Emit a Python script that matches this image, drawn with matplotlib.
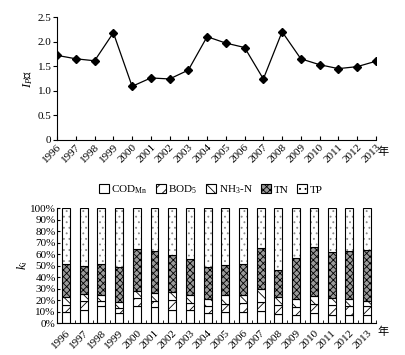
import matplotlib
matplotlib.use("Agg")
import matplotlib.pyplot as plt
import numpy as np
from matplotlib.patches import Patch
from matplotlib.ticker import FuncFormatter

plt.rcParams['font.family'] = ['Liberation Serif', 'Noto Sans CJK SC']
plt.rcParams['mathtext.fontset'] = 'custom'
plt.rcParams['mathtext.rm'] = 'Liberation Serif'
plt.rcParams['mathtext.it'] = 'Liberation Serif:italic'
plt.rcParams['hatch.linewidth'] = 0.6

years = list(range(1996, 2014))
ip = [1.72, 1.65, 1.61, 2.18, 1.09, 1.26, 1.24, 1.42, 2.10, 1.97,
      1.88, 1.24, 2.20, 1.65, 1.53, 1.45, 1.49, 1.60]

# contribution shares (%), bottom to top
cod = [10.0, 11.6, 15.0, 8.7, 15.0, 13.6, 11.6, 11.0, 9.0, 9.6,
       10.0, 10.7, 8.0, 7.2, 8.4, 7.2, 7.2, 7.2]
bod = [6.0, 7.4, 4.4, 4.3, 6.7, 5.8, 8.1, 6.4, 6.0, 7.2,
       7.4, 7.3, 8.0, 6.8, 8.1, 8.8, 7.8, 7.8]
nh3 = [7.0, 6.5, 5.2, 5.0, 5.8, 6.6, 7.0, 7.2, 6.3, 7.8,
       7.2, 11.6, 6.3, 6.9, 6.7, 5.7, 6.2, 4.4]
tn = [28.0, 24.5, 26.4, 30.4, 37.1, 36.3, 32.7, 31.4, 27.1, 26.1,
      27.0, 35.4, 24.1, 35.6, 42.6, 40.0, 41.1, 44.4]
tp = [100 - a - b - c - d for a, b, c, d in zip(cod, bod, nh3, tn)]

names = ['COD$_{\\mathrm{Mn}}$', 'BOD$_5$', 'NH$_3$-N', 'TN', 'TP']
hatches = ['', '///', '\\\\\\', 'xxxxx', '...']
faces = ['white', 'white', 'white', '#9a9a9a', 'white']
hatch_cols = ['black', 'black', 'black', 'black', '#8a8a8a']

fig = plt.figure(figsize=(4.05, 3.55), dpi=100)

# top: Ip line
ax1 = fig.add_axes([0.141, 0.606, 0.787, 0.346])
ax1.plot(years, ip, color='black', lw=0.9, marker='D', ms=4, mfc='black')
ax1.set_xlim(1996, 2013)
ax1.set_ylim(0, 2.5)
ax1.set_yticks([0, 0.5, 1.0, 1.5, 2.0, 2.5])
ax1.yaxis.set_major_formatter(FuncFormatter(lambda v, p: '0' if v == 0 else '%.1f' % v))
ax1.set_xticks(years)
ax1.set_xticklabels([str(y) for y in years], rotation=45, ha='right',
                    rotation_mode='anchor')
ax1.tick_params(axis='x', direction='in', length=3, labelsize=8, pad=2)
ax1.tick_params(axis='y', direction='out', length=3, labelsize=8, pad=1)
ax1.spines['top'].set_visible(False)
ax1.spines['right'].set_visible(False)
ax1.set_ylabel('$I_P$值', fontsize=9, labelpad=2)
ax1.text(1.005, -0.1, '年', transform=ax1.transAxes, fontsize=8, va='center')

# bottom: stacked bars
ax2 = fig.add_axes([0.141, 0.090, 0.787, 0.324])
x = np.arange(len(years))
bottom = np.zeros(len(years))
handles = []
for vals, name, h, fc, hc in zip([cod, bod, nh3, tn, tp], names, hatches,
                                 faces, hatch_cols):
    ax2.bar(x, vals, width=0.45, bottom=bottom, color=fc, edgecolor=hc,
            lw=0, hatch=h)
    ax2.bar(x, vals, width=0.45, bottom=bottom, fill=False,
            edgecolor='black', lw=0.8)
    handles.append(Patch(facecolor=fc, edgecolor='black', hatch=h,
                         lw=0.8, label=name))
    bottom += np.array(vals)
ax2.set_xlim(-0.5, len(years) - 0.5)
ax2.set_ylim(0, 100)
ax2.set_yticks(range(0, 101, 10))
ax2.set_yticklabels(['%d%%' % v for v in range(0, 101, 10)])
ax2.set_xticks(x)
ax2.set_xticklabels([str(y) for y in years], rotation=45, ha='right',
                    rotation_mode='anchor')
ax2.set_xticks(np.arange(-0.5, len(years)), minor=True)
ax2.tick_params(axis='x', which='major', length=0, labelsize=8, pad=4)
ax2.tick_params(axis='x', which='minor', direction='in', length=2)
ax2.tick_params(axis='y', direction='in', length=2, labelsize=8, pad=1)
ax2.spines['top'].set_visible(False)
ax2.spines['right'].set_visible(False)
ax2.set_ylabel('$k_i$', fontsize=9, labelpad=0)
ax2.text(1.005, -0.08, '年', transform=ax2.transAxes, fontsize=8, va='center')

fig.legend(handles=handles, loc='center', bbox_to_anchor=(0.52, 0.465), ncol=5,
           frameon=False, fontsize=8, handlelength=0.9, handleheight=0.9,
           handletextpad=0.2, columnspacing=0.8)

fig.savefig('out.png', dpi=100)
